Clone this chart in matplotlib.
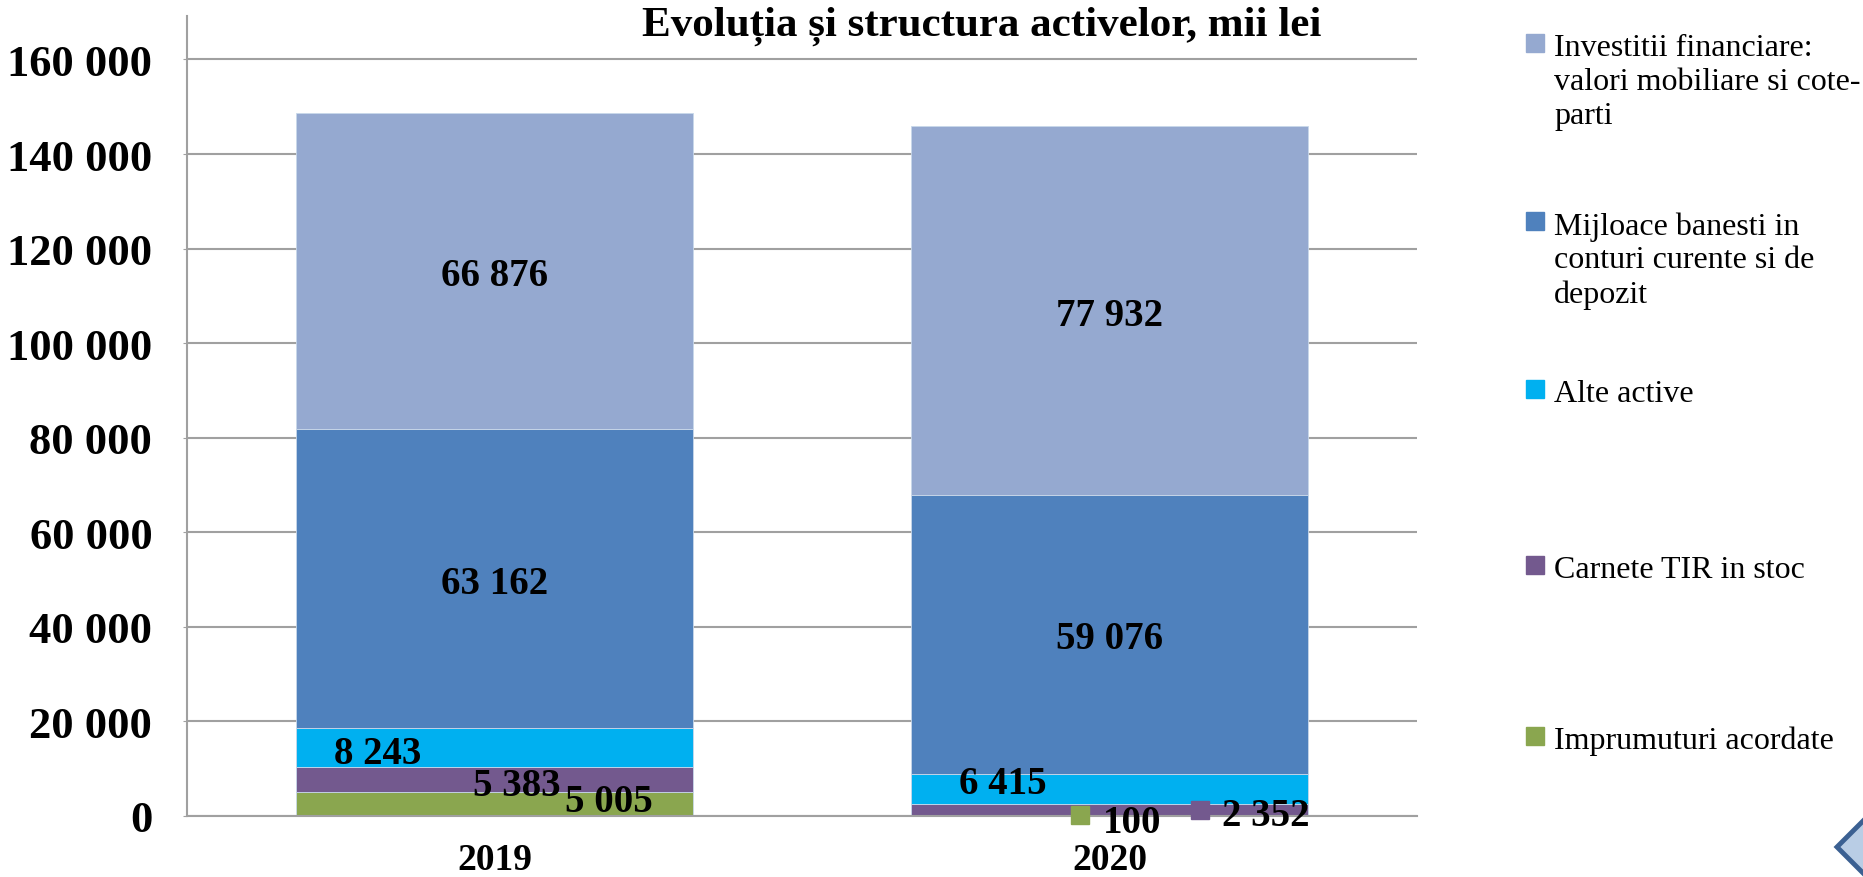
import numpy as np
import matplotlib
matplotlib.use("Agg")
import matplotlib.pyplot as plt
from matplotlib.patches import Polygon
from matplotlib.transforms import offset_copy

# date
years = ["2019", "2020"]
series_names = [
    "Imprumuturi acordate",
    "Carnete TIR in stoc",
    "Alte active",
    "Mijloace banesti in\nconturi curente si de\ndepozit",
    "Investitii financiare:\nvalori mobiliare si cote-\nparti",
]
imprumuturi = [5005, 100]
carnete_tir = [5383, 2352]
alte_active = [8243, 6415]
mijloace = [63162, 59076]
investitii = [66876, 77932]
values = [imprumuturi, carnete_tir, alte_active, mijloace, investitii]
y_ticks = [0, 20000, 40000, 60000, 80000, 100000, 120000, 140000, 160000]

colors = ["#8AA64F", "#73598E", "#00B0F0", "#4F81BD", "#95A9D0"]

# deplasari manuale ale etichetelor (pixeli), ca in Excel
label_offsets = [
    [(114, 7), (23, -2)],
    [(22, -1), (156, -1)],
    [(-117, -2), (-107, 10)],
    [(0, 0), (0, 0)],
    [(0, 0), (0, 0)],
]
# etichete cu cheie de legenda (doar 2020 jos)
key_offsets = {(0, 1): (-30, 1), (1, 1): (90, 0)}

plt.rcParams["font.family"] = ["Liberation Serif", "DejaVu Serif"]

def fmt(v):
    return f"{v:,.0f}".replace(",", " ")

fig = plt.figure(figsize=(18.63, 8.78), dpi=100)
ax = fig.add_axes([187 / 1863, 1 - 817 / 878, (1417 - 187) / 1863, 800 / 878])

x = np.arange(len(years))
bottom = np.zeros(len(years))
for i, name in enumerate(series_names):
    ax.bar(x, values[i], 0.647, bottom=bottom, color=colors[i],
           edgecolor="#C8D8EA", linewidth=0.6, zorder=2)
    for j in range(len(years)):
        mid = bottom[j] + values[i][j] / 2
        dx, dy = label_offsets[i][j]
        ax.annotate(fmt(values[i][j]), (x[j], mid), xytext=(dx * 0.72, dy * 0.72),
                    textcoords="offset points", ha="center", va="center_baseline",
                    fontsize=28, fontweight="bold", color="black", zorder=5)
        if (i, j) in key_offsets:
            kdx, kdy = key_offsets[(i, j)]
            tr = offset_copy(ax.transData, fig=fig, x=kdx, y=kdy, units="dots")
            ax.plot(x[j], mid, marker="s", markersize=13.5, color=colors[i],
                    transform=tr, zorder=4, clip_on=False)
    bottom += np.array(values[i])

ax.set_xlim(-0.5, 1.5)
ax.set_ylim(0, 169200)
ax.set_yticks(y_ticks)
ax.set_yticklabels([fmt(v) for v in y_ticks], fontsize=32, fontweight="bold")
ax.set_xticks(x)
ax.set_xticklabels(years, fontsize=27, fontweight="bold")
ax.grid(axis="y", color="#A0A0A0", linewidth=1.5, zorder=0)
ax.set_axisbelow(True)
for s in ["top", "right"]:
    ax.spines[s].set_visible(False)
for s in ["left", "bottom"]:
    ax.spines[s].set_color("#A0A0A0")
    ax.spines[s].set_linewidth(1.5)
ax.tick_params(axis="y", length=3, color="#A0A0A0", pad=22)
ax.tick_params(axis="x", length=0, pad=19)

fig.text(982 / 1863, 1 - 26 / 878, "Evoluția și structura activelor, mii lei",
         ha="center", va="center", fontsize=31, fontweight="bold")

# legenda desenata manual
legend_y = [737, 566, 390, 222, 44]
for i, name in enumerate(series_names):
    yf = 1 - legend_y[i] / 878
    fig.patches.append(plt.Rectangle((1526 / 1863, yf - 9 / 878), 18 / 1863, 18 / 878,
                                     transform=fig.transFigure, color=colors[i]))
    fig.text(1554 / 1863, yf + 10 / 878, name, ha="left", va="top",
             fontsize=23, linespacing=1.22)

# sageata decorativa din colt
arrow = Polygon([(1837 / 1863, 1 - 848 / 878), (1897 / 1863, 1 - 788 / 878),
                 (1897 / 1863, 1 - 908 / 878)],
                closed=True, transform=fig.transFigure, facecolor="#B9CDE5",
                edgecolor="#3B6092", linewidth=3.5)
fig.patches.append(arrow)

fig.savefig("out.png", dpi=100)
